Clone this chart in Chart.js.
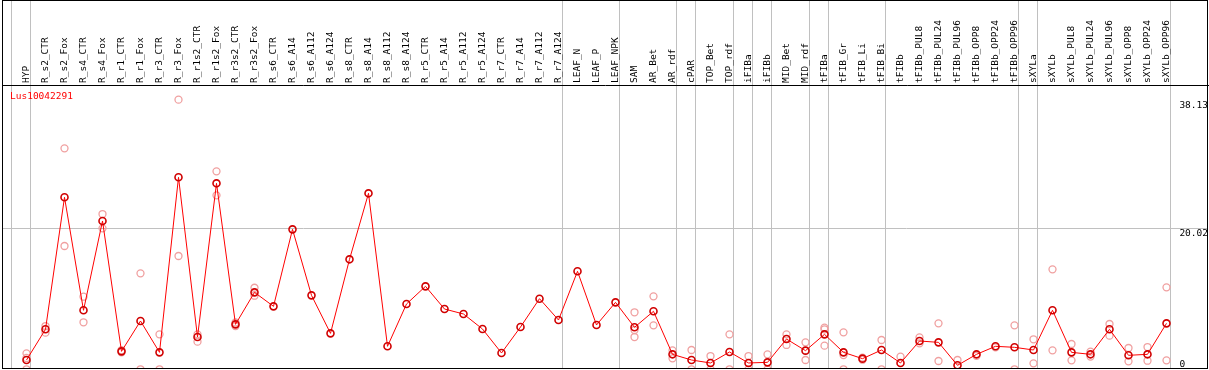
<!DOCTYPE html>
<html>
<head>
<meta charset="utf-8">
<script src="https://cdn.jsdelivr.net/npm/chart.js@4.4.1/dist/chart.umd.min.js"></script>
<style>
  html, body { margin: 0; padding: 0; background: #fff; }
  #wrap { width: 1209px; height: 370px; }
</style>
</head>
<body>
<div id="wrap"><canvas id="exprChart" width="1209" height="370"></canvas></div>
<script>
// Sample names, in plot order
const categories = [
    'HYP',
    'R_s2_CTR', 'R_s2_Fox', 'R_s4_CTR', 'R_s4_Fox', 'R_r1_CTR', 'R_r1_Fox', 'R_r3_CTR', 'R_r3_Fox',
    'R_r1s2_CTR', 'R_r1s2_Fox', 'R_r3s2_CTR', 'R_r3s2_Fox',
    'R_s6_CTR', 'R_s6_A14', 'R_s6_A112', 'R_s6_A124', 'R_s8_CTR', 'R_s8_A14', 'R_s8_A112', 'R_s8_A124',
    'R_r5_CTR', 'R_r5_A14', 'R_r5_A112', 'R_r5_A124', 'R_r7_CTR', 'R_r7_A14', 'R_r7_A112', 'R_r7_A124',
    'LEAF_N', 'LEAF_P', 'LEAF_NPK',
    'SAM', 'AR_Bet', 'AR_rdf',
    'cPAR',
    'TOP_Bet', 'TOP_rdf',
    'iFIBa',
    'iFIBb',
    'MID_Bet', 'MID_rdf',
    'tFIBa',
    'tFIB_Gr', 'tFIB_Li', 'tFIB_Bi',
    'tFIBb', 'tFIBb_PUL8', 'tFIBb_PUL24', 'tFIBb_PUL96', 'tFIBb_OPP8', 'tFIBb_OPP24', 'tFIBb_OPP96',
    'sXYLa',
    'sXYLb', 'sXYLb_PUL8', 'sXYLb_PUL24', 'sXYLb_PUL96', 'sXYLb_OPP8', 'sXYLb_OPP24', 'sXYLb_OPP96'
];

// How many samples sit in each tissue group (gray separators go between groups)
const groupSizes = [1, 28, 3, 3, 1, 2, 1, 1, 2, 1, 3, 7, 1, 7];

// Mean expression per sample (the joined line)
const means = [
    1.41,
    5.74, 24.36, 8.42, 21.02, 2.63, 6.91, 2.49, 27.18,
    4.65, 26.33, 6.44, 10.95,
    8.98, 19.84, 10.53, 5.17, 15.61, 24.92, 3.34, 9.31,
    11.8, 8.6, 7.9, 5.78, 2.4, 6.06, 10.06, 7.05,
    13.92, 6.35, 9.54,
    6.02, 8.28, 2.21,
    1.41,
    0.99, 2.54,
    0.99,
    1.08,
    4.37, 2.73,
    5.03,
    2.49, 1.6, 2.82,
    0.99, 4.09, 3.9, 0.66, 2.21, 3.34, 3.2,
    2.82,
    8.42, 2.49, 2.21, 5.74, 2.07, 2.21, 6.58
];

// Individual replicates per sample (light circles)
const replicates = [
    [2.35, 1.7, 0.1],
    [6.2, 5.27], [31.27, 17.49], [10.34, 6.73], [22.0, 19.98], [2.8, 2.5], [13.63, 0.1], [5.03, 0.1], [38.13, 16.08],
    [5.03, 4.0], [28.02, 24.64], [6.7, 6.2], [11.6, 10.48],
    [], [], [], [], [], [], [], [],
    [], [], [], [], [], [], [], [],
    [], [], [],
    [8.14, 5.64, 4.65], [10.39, 6.3], [2.77, 1.65],
    [2.82, 0.1],
    [1.97, 0.1], [5.03, 0.1],
    [1.97, 0.1],
    [2.21, 0.1],
    [5.03, 3.53], [3.9, 1.41],
    [5.97, 5.74, 3.43],
    [5.31, 2.11, 0.1], [1.75, 1.45], [4.23, 0.1],
    [1.88], [4.61, 3.76], [6.58, 1.27], [1.41], [2.0], [3.2], [6.3, 0.1],
    [4.33, 0.94],
    [14.2, 2.77], [3.67, 1.36], [2.6, 1.9], [6.49, 4.84], [3.1, 1.22], [3.24, 1.31], [11.66, 1.36]
];

const seriesName = 'Lus10042291';
const yTickValues = [0, 20.02, 38.13];
const yTickLabels = ['0', '20.02', '38.13'];
const yGridValues = [20.02];

const monoFont = "'DejaVu Sans Mono', monospace";
const sepColor = '#c0c0c0';

// separator positions: one before the first group, then after each group
const boundaries = [-1];
let acc = -1;
groupSizes.forEach(n => { acc += n; boundaries.push(acc); });
const sepOffset = 0.22;
const sepValues = boundaries.map(b => b + sepOffset);

const meanPoints = means.map((v, i) => ({ x: i, y: v }));
const replicatePoints = [];
replicates.forEach((reps, i) => {
    reps.forEach(v => replicatePoints.push({ x: i, y: v }));
});

// Frame and series name
const framePlugin = {
    id: 'frame',
    afterDraw(chart) {
        const ctx = chart.ctx;
        const area = chart.chartArea;
        ctx.save();
        ctx.strokeStyle = '#000';
        ctx.lineWidth = 1;
        ctx.strokeRect(2.5, 0.5, 1205, 368);
        ctx.fillStyle = '#ff0000';
        ctx.font = '9.5px ' + monoFont;
        ctx.textBaseline = 'middle';
        ctx.textAlign = 'left';
        ctx.fillText(seriesName, area.left + 8, area.top + 12);
        ctx.restore();
    }
};

new Chart(document.getElementById('exprChart'), {
    type: 'line',
    data: {
        datasets: [{
            type: 'line',
            label: seriesName,
            data: meanPoints,
            borderColor: '#ff0000',
            borderWidth: 1,
            tension: 0,
            pointRadius: 3.5,
            pointBorderWidth: 1.6,
            pointBorderColor: '#d00000',
            pointBackgroundColor: 'rgba(0,0,0,0)',
            order: 0
        }, {
            type: 'scatter',
            label: 'replicates',
            data: replicatePoints,
            showLine: false,
            pointRadius: 3.5,
            pointBorderWidth: 1.3,
            pointBorderColor: '#f0a0a0',
            pointBackgroundColor: 'rgba(0,0,0,0)',
            order: 1
        }]
    },
    options: {
        responsive: false,
        animation: false,
        events: [],
        layout: {
            autoPadding: false,
            padding: { left: 2, right: 1, top: 0, bottom: 1 }
        },
        plugins: {
            legend: { display: false },
            tooltip: { enabled: false }
        },
        scales: {
            x: {
                type: 'linear',
                position: 'top',
                min: -1.2895,
                max: 62.184,
                afterBuildTicks: (scale) => {
                    const vals = categories.map((c, i) => i).concat(sepValues);
                    vals.sort((a, b) => a - b);
                    scale.ticks = vals.map(v => ({ value: v }));
                },
                afterFit: (scale) => {
                    scale.height = 85;
                    scale.paddingLeft = 0;
                    scale.paddingRight = 0;
                },
                ticks: {
                    autoSkip: false,
                    minRotation: 90,
                    maxRotation: 90,
                    padding: -83,
                    labelOffset: 11.4,
                    color: '#000',
                    font: { family: monoFont, size: 9.5 },
                    callback: (value) => Number.isInteger(value) ? categories[value] : ''
                },
                grid: {
                    drawTicks: true,
                    tickLength: 85,
                    lineWidth: 1,
                    color: (ctx) => (ctx.tick && !Number.isInteger(ctx.tick.value)) ? sepColor : 'rgba(0,0,0,0)',
                    tickColor: (ctx) => (ctx.tick && !Number.isInteger(ctx.tick.value)) ? sepColor : 'rgba(0,0,0,0)'
                },
                border: { display: true, color: '#000', width: 1 }
            },
            y: {
                type: 'linear',
                position: 'right',
                min: 0.141,
                max: 40.2,
                afterBuildTicks: (scale) => {
                    scale.ticks = yTickValues.map(v => ({ value: v }));
                },
                afterFit: (scale) => {
                    scale.width = 0;
                    scale.paddingTop = 0;
                    scale.paddingBottom = 0;
                },
                ticks: {
                    mirror: true,
                    crossAlign: 'far',
                    padding: 0,
                    color: '#000',
                    font: { family: monoFont, size: 9.5, lineHeight: 1.2 },
                    callback: (value) => {
                        const label = yTickLabels[yTickValues.indexOf(value)];
                        // keep the label just under its line, and the bottom one inside the frame
                        return value === 0 ? [label, ''] : ['', label];
                    }
                },
                grid: {
                    drawTicks: false,
                    color: (ctx) => (ctx.tick && yGridValues.includes(ctx.tick.value)) ? sepColor : 'rgba(0,0,0,0)'
                },
                border: { display: false }
            }
        }
    },
    plugins: [framePlugin]
});
</script>
</body>
</html>
